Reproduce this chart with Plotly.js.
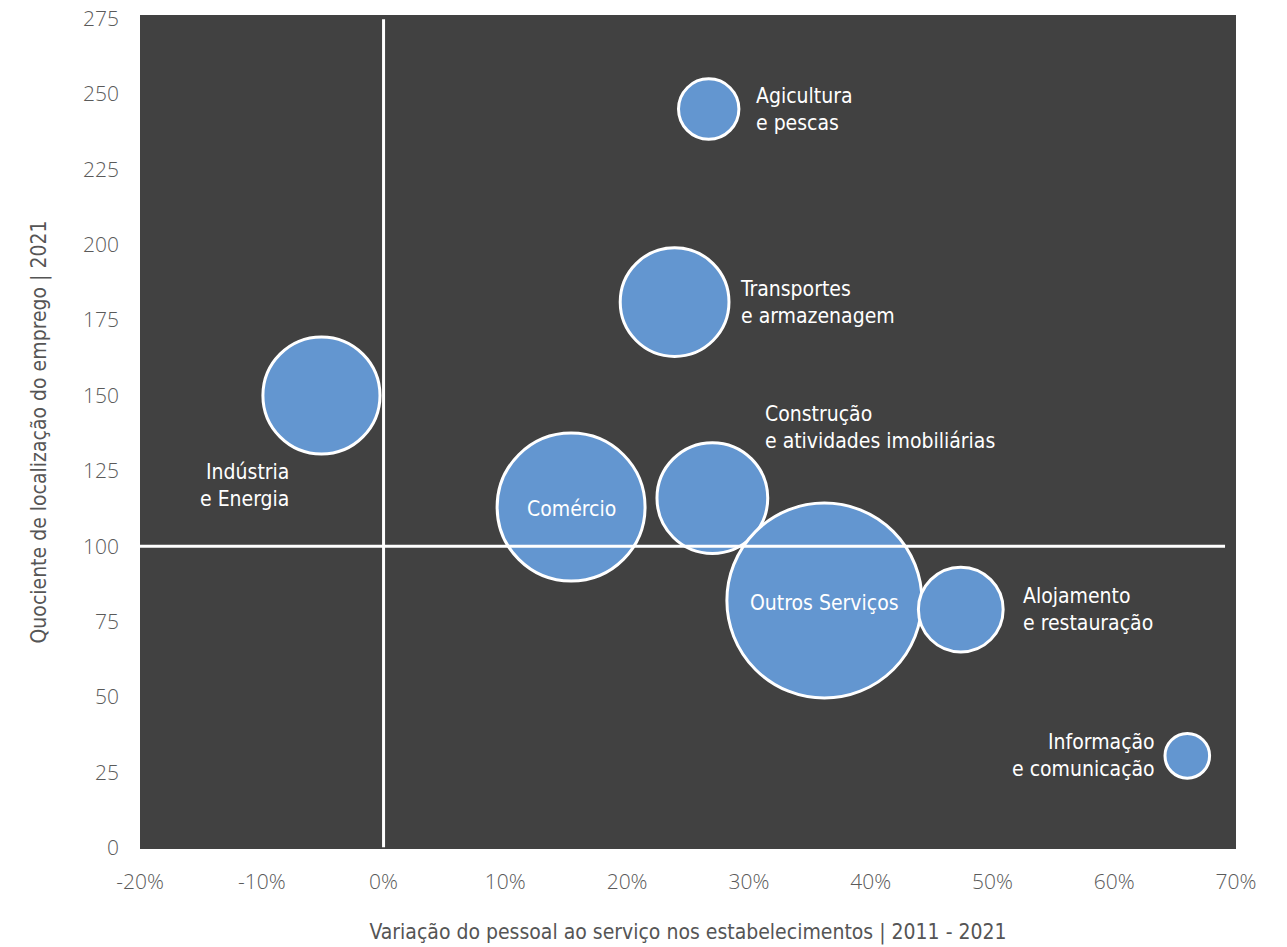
<!DOCTYPE html>
<html>
<head>
<meta charset="utf-8">
<script src="https://cdn.plot.ly/plotly-3.0.1.min.js"></script>
<style>html,body{margin:0;padding:0;background:#fff;}#chart{width:1287px;height:947px;}</style>
</head>
<body>
<div id="chart"></div>
<script>
// Data
const sectors = ["Agicultura<br>e pescas", "Transportes<br>e armazenagem", "Indústria<br>e Energia", "Comércio",
                 "Construção<br>e atividades imobiliárias", "Outros Serviços", "Alojamento<br>e restauração", "Informação<br>e comunicação"];
const variation = [26.7, 23.9, -5.1, 15.4, 27.0, 36.2, 47.4, 66.0];      // % change 2011-2021
const quotient = [245, 181, 150, 113, 116, 82, 79, 30.5];              // location quotient 2021
const weight = [3.3, 10.7, 12.4, 19.8, 11.1, 34.4, 6.5, 1.8];          // bubble weight (share of employment)
const xTicks = [-20, -10, 0, 10, 20, 30, 40, 50, 60, 70];
const yTicks = [0, 25, 50, 75, 100, 125, 150, 175, 200, 225, 250, 275];

// Label placement (styling only): side relative to bubble
const labelPlace = ["right", "right", "belowleft", "center", "aboveright", "center", "right", "left"];
const labelGap = [14, 8, 0, 0, 0, 0, 16, 6];

const labelFont = {family: "Liberation Sans Narrow, DejaVu Sans Condensed, Arial Narrow, sans-serif", size: 21, color: "#ffffff"};
const axisFont = {family: "Liberation Sans Narrow, DejaVu Sans Condensed, sans-serif", size: 21, color: "#555555"};
const tickFont = {family: "Open Sans, Lato, sans-serif", size: 21, color: "#5a5a5a", weight: 300};

// Outros Serviços bubble ~195 px across
const sizeref = 4 * (Math.max(...weight) / 2) / (195 * 195);

function radiusOf(w) { return Math.sqrt(w / 2 / sizeref) + 1.5; }

const annotations = sectors.map((s, i) => {
  const r = radiusOf(weight[i]);
  const a = {x: variation[i], y: quotient[i], xref: "x", yref: "y", text: s, showarrow: false,
             font: labelFont, align: "left"};
  const p = labelPlace[i];
  if (p === "center") { a.xanchor = "center"; a.yanchor = "middle"; a.align = "center"; a.yshift = -2; }
  else if (p === "right") { a.xanchor = "left"; a.yanchor = "middle"; a.xshift = r + labelGap[i]; a.yshift = 0; }
  else if (p === "left") { a.xanchor = "right"; a.yanchor = "middle"; a.xshift = -(r + labelGap[i]); a.align = "right"; }
  else if (p === "belowleft") { a.xanchor = "right"; a.yanchor = "top"; a.xshift = -30; a.yshift = -(r + 2); a.align = "right"; }
  else if (p === "aboveright") { a.xanchor = "left"; a.yanchor = "bottom"; a.xshift = r - 6; a.yshift = r - 14; }
  return a;
});

const trace = {
  type: "scatter", mode: "markers",
  x: variation, y: quotient, text: sectors, hoverinfo: "text",
  marker: {size: weight, sizemode: "area", sizeref: sizeref,
           color: "#6396d0", opacity: 1, line: {color: "#ffffff", width: 3}}
};

const layout = {
  width: 1287, height: 947,
  margin: {l: 140, r: 51, t: 15, b: 98},
  paper_bgcolor: "#ffffff", plot_bgcolor: "#414141",
  showlegend: false,
  xaxis: {range: [-20, 70], tickvals: xTicks, ticktext: xTicks.map(v => v + "%"),
          showgrid: false, zeroline: false, showline: false, ticks: "", ticklabelstandoff: 18,
          tickfont: tickFont, fixedrange: true,
          title: {text: "Variação do pessoal ao serviço nos estabelecimentos | 2011 - 2021", font: axisFont, standoff: 30}},
  yaxis: {range: [-0.4, 276.2], tickvals: yTicks, showgrid: false, zeroline: false, showline: false,
          ticks: "", ticklabelstandoff: 20, tickfont: tickFont, fixedrange: true,
          title: {text: "Quociente de localização do emprego | 2021", font: axisFont, standoff: 30}},
  shapes: [
    {type: "line", xref: "x", yref: "paper", x0: 0, x1: 0, y0: 0.002, y1: 0.995, layer: "above",
     line: {color: "#ffffff", width: 3}},
    {type: "line", xref: "paper", yref: "y", x0: 0, x1: 0.99, y0: 100, y1: 100, layer: "above",
     line: {color: "#ffffff", width: 3}}
  ],
  annotations: annotations
};

Plotly.newPlot("chart", [trace], layout, {displayModeBar: false, staticPlot: true});
</script>
</body>
</html>
